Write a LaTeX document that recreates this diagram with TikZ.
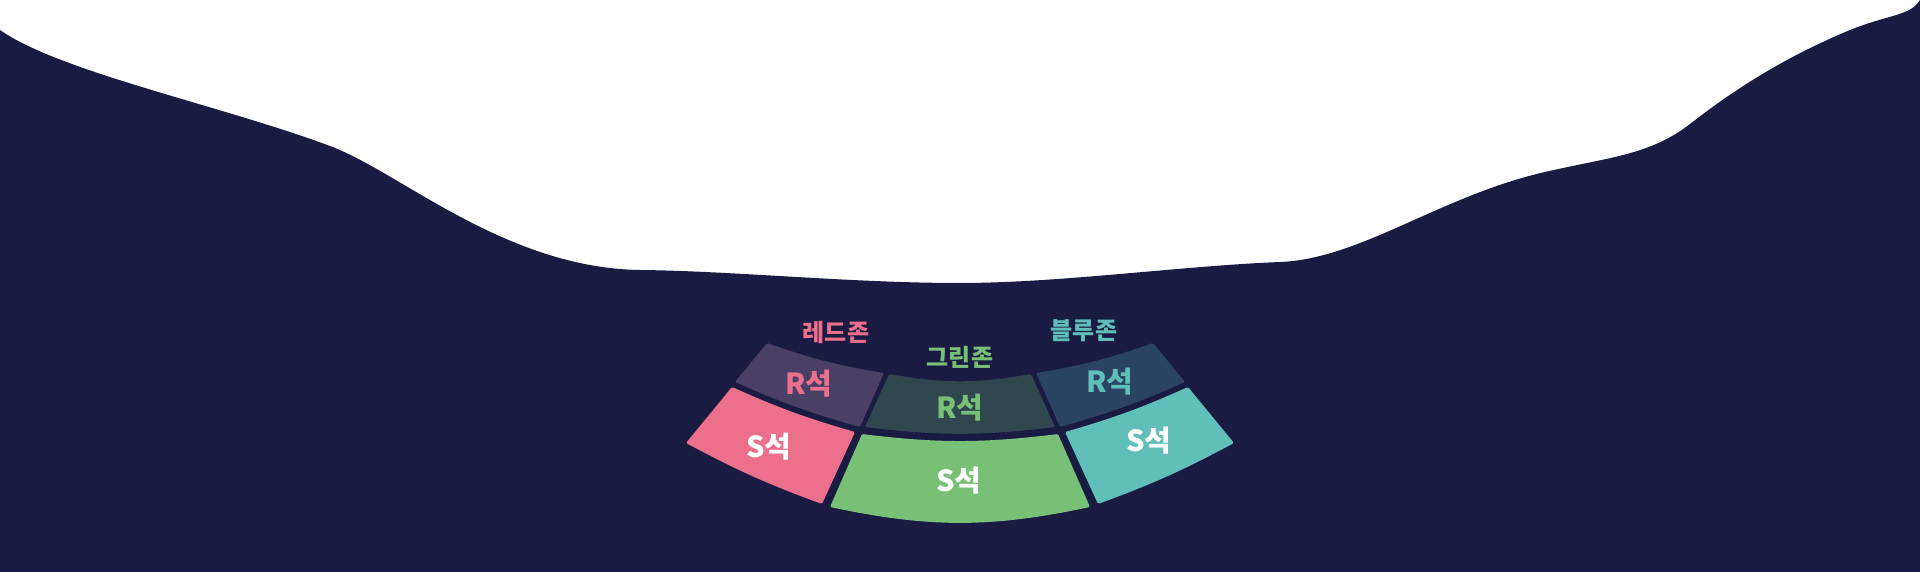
\documentclass[tikz,border=0pt]{standalone}
\usepackage{xcolor}
\usepackage{fontspec}
\setmainfont{Noto Sans CJK KR}
\usepackage{tikz}
\usetikzlibrary{calc}

\definecolor{night}{HTML}{1A1B43}
\definecolor{redzone}{HTML}{EC6F8B}
\definecolor{redback}{HTML}{4A4066}
\definecolor{greenzone}{HTML}{77C076}
\definecolor{greenback}{HTML}{30474F}
\definecolor{bluezone}{HTML}{60C0B9}
\definecolor{blueback}{HTML}{2B4463}

\begin{document}
\begin{tikzpicture} [x=1pt, y=-1pt,
    block/.style={rounded corners=1.5pt},
    zone/.style={font=\fontsize{24}{26}\selectfont\bfseries, inner sep=0pt},
    seat/.style={font=\fontsize{29}{31}\selectfont\bfseries, inner sep=0pt}]
      \useasboundingbox (0,0) rectangle (1920,572);
      \fill[white] (0,0) rectangle (1920,572);
      % the hall
      \fill[night] (0,30) .. controls (60,72) and (220,105) .. (330,146)
        .. controls (400,172) and (505,268) .. (640,270)
        .. controls (735,271) and (850,283) .. (960,283)
        .. controls (1060,283) and (1180,266) .. (1280,262)
        .. controls (1360,259) and (1440,196) .. (1545,172)
        .. controls (1610,157) and (1650,155) .. (1690,124)
        .. controls (1740,85) and (1790,55) .. (1850,30)
        .. controls (1890,14) and (1910,16) .. (1920,0)
        -- (1920,572) -- (0,572) -- cycle;
      % red zone
      \fill[redback, block] (767,343) to[bend right=5] (884,373) -- (860,427) to[bend left=4] (735,382) -- cycle;
      \fill[redzone, block] (732,387) to[bend right=4] (855,432) -- (822,504) to[bend left=4] (686,443) -- cycle;
      % green zone
      \fill[greenback, block] (889,374) to[bend right=10] (1031,374) -- (1055,427) to[bend left=7] (865,427) -- cycle;
      \fill[greenzone, block] (862,434) to[bend right=7] (1058,434) -- (1090,507) to[bend left=12] (830,507) -- cycle;
      % blue zone
      \fill[blueback, block] (1036,373) to[bend right=5] (1153,343) -- (1185,382) to[bend left=4] (1060,427) -- cycle;
      \fill[bluezone, block] (1065,432) to[bend right=4] (1188,387) -- (1234,443) to[bend left=4] (1098,504) -- cycle;
      % labels
      \node[zone, text=redzone] (redname) at (836,332) {레드존};
      \node[zone, text=greenzone] (greenname) at (960,357) {그린존};
      \node[zone, text=bluezone] (bluename) at (1084,331) {블루존};
      \node[seat, text=redzone] (redR) at (809,384) {R석};
      \node[seat, text=greenzone] (greenR) at (960,408) {R석};
      \node[seat, text=bluezone] (blueR) at (1110,382) {R석};
      \node[seat, text=white] (redS) at (769,447) {S석};
      \node[seat, text=white] (greenS) at (959,481) {S석};
      \node[seat, text=white] (blueS) at (1149,441) {S석};
    \end{tikzpicture}
\end{document}
